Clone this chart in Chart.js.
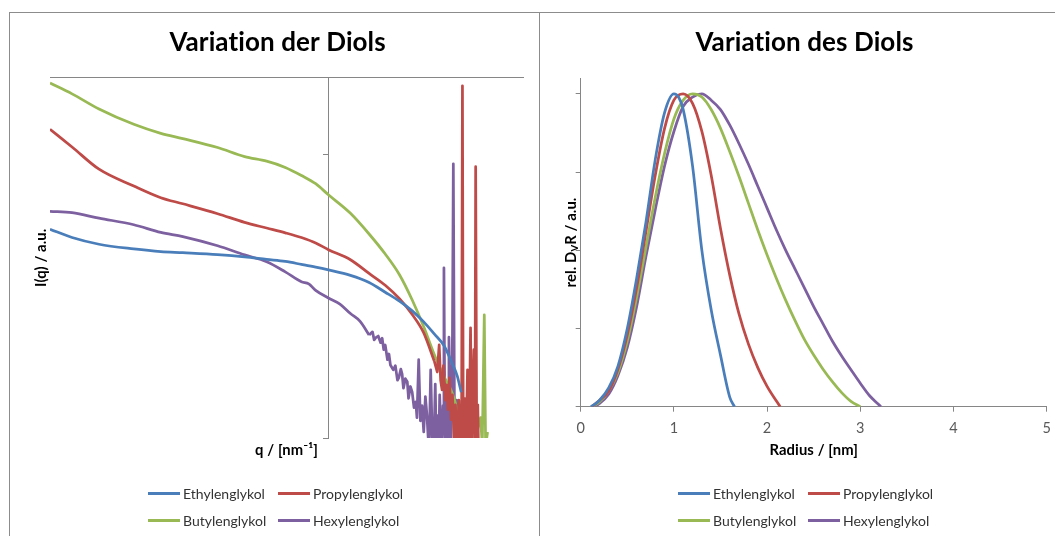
<!DOCTYPE html>
<html>
<head>
<meta charset="utf-8">
<title>Variation der Diols</title>
<script src="https://cdn.jsdelivr.net/npm/chart.js@4.4.1/dist/chart.umd.min.js"></script>
<style>
  html, body { margin: 0; padding: 0; background: #fff; overflow: hidden; }
  body { width: 1055px; height: 536px; position: relative; font-family: Lato, "Open Sans", sans-serif; }
  .rule { position: absolute; background: #8c8c8c; }
  canvas { position: absolute; top: 0; }
  #saxsChart { left: 10px; }
  #sizeChart { left: 540px; }
  .legend { position: absolute; top: 480px; display: grid; grid-template-columns: 130px 130px; font-size: 14px; color: #333; }
  .legend .item { display: flex; align-items: center; height: 27px; white-space: nowrap; }
  .legend .swatch { display: inline-block; width: 32px; height: 3px; margin-right: 3px; }
  #saxsLegend { left: 148px; }
  #sizeLegend { left: 678px; }
</style>
</head>
<body>
<div class="rule" style="left:9px; top:12px; width:1046px; height:1px;"></div>
<div class="rule" style="left:9px; top:12px; width:1px; height:524px;"></div>
<div class="rule" style="left:539px; top:12px; width:1px; height:524px;"></div>

<canvas id="saxsChart" width="529" height="536"></canvas>
<canvas id="sizeChart" width="527" height="536"></canvas>
<div class="legend" id="saxsLegend"></div>
<div class="legend" id="sizeLegend"></div>

<script>
// ===================== Data =====================

const seriesNames = ['Ethylenglykol', 'Propylenglykol', 'Butylenglykol', 'Hexylenglykol'];
const seriesColors = ['#4a7ebb', '#be4b48', '#98b954', '#7d60a0'];
const axisColor = '#868686';

// scattering curves: q in nm^-1, I(q) in a.u.
const qEthylen = [0.1, 0.12, 0.15, 0.2, 0.25, 0.3, 0.4, 0.5, 0.6, 0.7, 0.8, 0.9, 1.0, 1.2, 1.4, 1.6, 1.8, 2.0, 2.2, 2.4, 2.6, 2.8, 2.9, 3.0];
const iEthylen = [5.46, 5.10, 4.83, 4.65, 4.55, 4.51, 4.44, 4.36, 4.27, 4.20, 4.10, 4.01, 3.92, 3.75, 3.54, 3.27, 3.04, 2.81, 2.57, 2.33, 2.12, 1.81, 1.66, 1.45];

const qPropylen = [0.1, 0.12, 0.15, 0.2, 0.25, 0.3, 0.4, 0.5, 0.6, 0.7, 0.8, 0.9, 1.0, 1.2, 1.4, 1.6, 1.8, 2.0, 2.2, 2.4,
  2.46, 2.50, 2.53, 2.56, 2.59, 2.63, 2.66, 2.69, 2.72, 2.76, 2.79, 2.83, 2.86, 2.90, 2.94, 2.97,
  3.01, 3.03, 3.05, 3.08, 3.12, 3.16, 3.20, 3.24, 3.27, 3.30, 3.33, 3.36, 3.38, 3.41, 3.44, 3.46];
const iPropylen = [12.3, 10.65, 8.89, 7.75, 7.05, 6.71, 6.19, 5.77, 5.51, 5.30, 5.10, 4.88, 4.62, 4.26, 3.81, 3.46, 3.10, 2.73, 2.35, 1.87,
  1.71, 2.13, 1.60, 1.48, 1.80, 1.36, 1.54, 1.26, 1.63, 1.16, 1.42, 0.95, 1.31, 0.9, 1.36, 0.9,
  1.21, 17.5, 0.95, 1.38, 0.9, 1.74, 0.9, 2.45, 0.9, 1.45, 2.05, 0.9, 9.07, 0.9, 1.31, 0.9];

const qButylen = [0.1, 0.12, 0.15, 0.2, 0.25, 0.3, 0.4, 0.5, 0.6, 0.7, 0.8, 0.9, 1.0, 1.2, 1.4, 1.6, 1.8, 2.0, 2.2, 2.4, 2.6, 2.8, 3.0,
  3.06, 3.14, 3.22, 3.30, 3.38, 3.46, 3.52, 3.57, 3.63, 3.67, 3.73];
const iButylen = [17.9, 16.4, 14.5, 12.8, 11.9, 11.4, 10.6, 9.85, 9.49, 9.02, 8.45, 7.90, 7.22, 6.21, 5.25, 4.46, 3.77, 3.07, 2.47, 1.97, 1.65, 1.42, 1.11,
  0.98, 1.05, 1.16, 0.94, 1.0, 1.11, 1.18, 0.94, 2.72, 0.94, 1.05];

const qHexylen = [0.1, 0.12, 0.15, 0.2, 0.25, 0.3, 0.4, 0.5, 0.6, 0.7, 0.8, 0.85, 0.9, 1.0, 1.1, 1.2, 1.3, 1.4,
  1.44, 1.46, 1.48, 1.51, 1.54, 1.56, 1.58, 1.60, 1.63, 1.65, 1.67, 1.71, 1.74, 1.77, 1.79, 1.82, 1.84, 1.86, 1.89,
  1.92, 1.94, 1.97, 2.00, 2.03, 2.06, 2.08, 2.11, 2.14, 2.17, 2.20, 2.23, 2.26, 2.28, 2.30, 2.33, 2.36, 2.39,
  2.42, 2.44, 2.46, 2.49, 2.51, 2.53, 2.56, 2.58, 2.60, 2.62, 2.64, 2.67, 2.69, 2.71, 2.73, 2.75, 2.77, 2.79,
  2.81, 2.84, 2.86, 2.89, 2.92, 2.95, 2.97, 3.00];
const iHexylen = [6.31, 6.24, 5.97, 5.66, 5.32, 5.14, 4.77, 4.43, 4.19, 3.86, 3.56, 3.50, 3.32, 3.12, 2.97, 2.75, 2.58, 2.31,
  2.37, 2.22, 2.26, 2.29, 2.17, 2.25, 2.05, 2.13, 1.89, 1.98, 1.81, 1.74, 1.80, 1.60, 1.63, 1.75, 1.68, 1.50, 1.62,
  1.58, 1.38, 1.52, 1.45, 1.28, 1.34, 1.18, 1.89, 1.15, 1.30, 1.05, 1.40, 1.20, 1.02, 0.9, 1.74, 1.01, 0.9,
  1.55, 0.95, 1.20, 0.9, 1.42, 1.13, 0.9, 1.30, 3.99, 1.10, 0.9, 1.50, 1.0, 2.27, 1.20, 0.9, 1.40, 2.31,
  9.29, 0.9, 1.25, 1.36, 0.9, 1.30, 1.19, 0.9];

// q above which each curve turns to noise (drawn with straight segments)
const noiseOnset = [Infinity, 2.4, 3.0, 1.4];

const saxsYTicks = [1, 10];

// size distributions: radius in nm, relative D_V(R)
const rEthylen = [0.11, 0.2, 0.3, 0.4, 0.5, 0.6, 0.7, 0.8, 0.9, 1.0, 1.05, 1.1, 1.2, 1.3, 1.4, 1.5, 1.6, 1.65];
const dEthylen = [0, 0.02, 0.06, 0.13, 0.25, 0.41, 0.59, 0.79, 0.94, 1.0, 0.99, 0.95, 0.77, 0.50, 0.31, 0.165, 0.03, 0];

const rPropylen = [0.12, 0.2, 0.3, 0.4, 0.5, 0.6, 0.7, 0.8, 0.9, 1.0, 1.1, 1.2, 1.3, 1.4, 1.5, 1.6, 1.7, 1.8, 1.9, 2.0, 2.1, 2.14];
const dPropylen = [0, 0.02, 0.05, 0.12, 0.23, 0.38, 0.56, 0.74, 0.89, 0.98, 1.0, 0.97, 0.88, 0.74, 0.57, 0.42, 0.295, 0.20, 0.125, 0.065, 0.018, 0];

const rButylen = [0.12, 0.2, 0.3, 0.4, 0.5, 0.6, 0.7, 0.8, 0.9, 1.0, 1.1, 1.2, 1.3, 1.4, 1.5, 1.6, 1.7, 1.8, 1.9, 2.0,
  2.1, 2.2, 2.3, 2.4, 2.5, 2.6, 2.7, 2.8, 2.9, 3.0];
const dButylen = [0, 0.015, 0.05, 0.11, 0.21, 0.35, 0.51, 0.67, 0.81, 0.92, 0.98, 1.0, 0.99, 0.95, 0.89, 0.815, 0.735, 0.65, 0.565, 0.485,
  0.41, 0.34, 0.275, 0.215, 0.165, 0.12, 0.08, 0.045, 0.017, 0];

const rHexylen = [0.13, 0.2, 0.3, 0.4, 0.5, 0.6, 0.7, 0.8, 0.9, 1.0, 1.1, 1.2, 1.3, 1.4, 1.5, 1.6, 1.7, 1.8, 1.9, 2.0,
  2.1, 2.2, 2.3, 2.4, 2.5, 2.6, 2.7, 2.8, 2.9, 3.0, 3.1, 3.2, 3.22];
const dHexylen = [0, 0.01, 0.04, 0.10, 0.19, 0.32, 0.48, 0.63, 0.77, 0.88, 0.96, 0.99, 1.0, 0.98, 0.95, 0.90, 0.84, 0.775, 0.705, 0.635,
  0.565, 0.50, 0.44, 0.38, 0.32, 0.265, 0.21, 0.162, 0.118, 0.075, 0.035, 0.006, 0];

const radiusTicks = [0, 1, 2, 3, 4, 5];
const distTicks = [0, 0.25, 0.5, 0.75, 1];

// ===================== Helpers =====================

function toPoints(xs, ys) {
  return xs.map((x, i) => ({ x, y: ys[i] }));
}

// pin an axis box to a fixed thickness so the plot area lands where it should
function fixedSize(px) {
  return scale => {
    if (scale.isHorizontal()) scale.height = px;
    else scale.width = px;
  };
}

function setTicks(values) {
  return scale => { scale.ticks = values.map(v => ({ value: v })); };
}

function buildLegend(chart, elementId) {
  const box = document.getElementById(elementId);
  chart.data.datasets.filter(ds => !ds.isTail).forEach(ds => {
    const item = document.createElement('div');
    item.className = 'item';
    const swatch = document.createElement('span');
    swatch.className = 'swatch';
    swatch.style.background = ds.borderColor;
    const label = document.createElement('span');
    label.textContent = ds.label;
    item.append(swatch, label);
    box.append(item);
  });
}

// tiny letter spacing keeps the font from fusing "ti" in the titles
const noLigatures = {
  id: 'noLigatures',
  beforeDraw(chart) { chart.ctx.letterSpacing = '0.1px'; }
};

// y title with a real subscript: "rel. D" + "V" + "R / a.u."
const subscriptYTitle = {
  id: 'subscriptYTitle',
  afterDraw(chart, args, opts) {
    const { ctx, chartArea } = chart;
    const scale = chart.scales.y;
    const parts = opts.parts;
    const x = scale.left + opts.size * 0.6;
    const y = (chartArea.top + chartArea.bottom) / 2;
    ctx.save();
    ctx.translate(x, y);
    ctx.rotate(-Math.PI / 2);
    ctx.fillStyle = '#000';
    ctx.textBaseline = 'middle';
    const fonts = parts.map(p => `bold ${p.sub ? opts.size * 0.65 : opts.size}px ${Chart.defaults.font.family}`);
    const widths = parts.map((p, i) => { ctx.font = fonts[i]; return ctx.measureText(p.text).width; });
    let cx = -widths.reduce((a, b) => a + b, 0) / 2;
    parts.forEach((p, i) => {
      ctx.font = fonts[i];
      ctx.fillText(p.text, cx, p.sub ? opts.size * 0.28 : 0);
      cx += widths[i];
    });
    ctx.restore();
  }
};

Chart.defaults.font.family = 'Lato, "Open Sans", sans-serif';
Chart.defaults.color = '#000';

const titleFont = { size: 26, weight: 'bold' };
const axisTitleFont = { size: 14.8, weight: 'bold' };

// ===================== Scattering curves (log-log) =====================

const saxsSets = [[qEthylen, iEthylen], [qPropylen, iPropylen], [qButylen, iButylen], [qHexylen, iHexylen]];

// smooth part of each curve gets a monotone spline, the noisy tail stays jagged
const saxsDatasets = [];
saxsSets.forEach(([q, i], k) => {
  const pts = toPoints(q, i);
  const onset = noiseOnset[k];
  saxsDatasets.push({
    label: seriesNames[k],
    data: pts.filter(p => p.x <= onset),
    borderColor: seriesColors[k],
    backgroundColor: seriesColors[k],
    cubicInterpolationMode: 'monotone',
    clip: 0
  });
  const tail = pts.filter(p => p.x >= onset);
  if (tail.length) {
    saxsDatasets.push({
      label: seriesNames[k],
      isTail: true,
      data: tail,
      borderColor: seriesColors[k],
      backgroundColor: seriesColors[k],
      tension: 0,
      clip: 0
    });
  }
});

const saxsChart = new Chart(document.getElementById('saxsChart'), {
  type: 'line',
  data: { datasets: saxsDatasets },
  plugins: [noLigatures],
  options: {
    responsive: false,
    animation: false,
    devicePixelRatio: 1,
    layout: { padding: { left: 22.1, right: 16, top: 0, bottom: 77.1 } },
    elements: {
      point: { radius: 0 },
      line: { borderWidth: 2.75, borderJoinStyle: 'round' }
    },
    plugins: {
      legend: { display: false },
      tooltip: { enabled: false },
      title: { display: true, text: 'Variation der Diols', font: titleFont, color: '#000', padding: { top: 27.4, bottom: 19.1 } }
    },
    scales: {
      x: {
        type: 'logarithmic', position: 'bottom', min: 0.1, max: 5,
        border: { display: false }, grid: { display: false }, ticks: { display: false },
        title: { display: true, text: 'q / [nm⁻¹]', font: axisTitleFont, color: '#000', padding: { top: 0, bottom: 0 } },
        afterFit: fixedSize(20.9)
      },
      xTop: {
        type: 'logarithmic', position: 'top', min: 0.1, max: 5,
        border: { color: axisColor, width: 1 }, grid: { display: false }, ticks: { display: false },
        afterFit: fixedSize(0)
      },
      y: {
        type: 'logarithmic', position: 'left', min: 1, max: 18.7,
        border: { display: false }, grid: { display: false }, ticks: { display: false },
        title: { display: true, text: 'I(q) / a.u.', font: axisTitleFont, color: '#000', padding: { top: 0, bottom: 0 } },
        afterFit: fixedSize(17.9)
      },
      yCross: {
        type: 'logarithmic', position: { x: 1 }, min: 1, max: 18.7,
        border: { color: axisColor, width: 1 },
        grid: { drawOnChartArea: false, color: axisColor, tickLength: 5 },
        ticks: { display: false },
        afterBuildTicks: setTicks(saxsYTicks)
      }
    }
  }
});

// ===================== Size distributions =====================

const sizeSets = [[rEthylen, dEthylen], [rPropylen, dPropylen], [rButylen, dButylen], [rHexylen, dHexylen]];

const sizeChart = new Chart(document.getElementById('sizeChart'), {
  type: 'line',
  data: {
    datasets: sizeSets.map(([r, d], k) => ({
      label: seriesNames[k],
      data: toPoints(r, d),
      borderColor: seriesColors[k],
      backgroundColor: seriesColors[k],
      cubicInterpolationMode: 'monotone'
    }))
  },
  plugins: [noLigatures, subscriptYTitle],
  options: {
    responsive: false,
    animation: false,
    devicePixelRatio: 1,
    layout: { padding: { left: 22.2, right: 20.3, top: 0, bottom: 76.4 } },
    elements: {
      point: { radius: 0 },
      line: { borderWidth: 2.75 }
    },
    plugins: {
      legend: { display: false },
      tooltip: { enabled: false },
      title: { display: true, text: 'Variation des Diols', font: titleFont, color: '#000', padding: { top: 27.4, bottom: 19.7 } },
      subscriptYTitle: {
        size: 14.8,
        parts: [{ text: 'rel. D' }, { text: 'V', sub: true }, { text: 'R / a.u.' }]
      }
    },
    scales: {
      x: {
        type: 'linear', position: 'bottom', min: 0, max: 5,
        border: { color: axisColor, width: 1 },
        grid: { drawOnChartArea: false, color: axisColor, tickLength: 5 },
        ticks: { font: { size: 14.5 }, color: '#595959', padding: 7.5, maxRotation: 0 },
        afterBuildTicks: setTicks(radiusTicks),
        title: { display: true, text: 'Radius / [nm]', font: axisTitleFont, color: '#000', padding: { top: 0, bottom: 0 } },
        afterFit: fixedSize(52.9)
      },
      y: {
        type: 'linear', position: 'left', min: 0, max: 1.05,
        border: { color: axisColor, width: 1 },
        grid: { drawOnChartArea: false, color: axisColor, tickLength: 5 },
        ticks: { display: false },
        afterBuildTicks: setTicks(distTicks),
        afterFit: fixedSize(18.5)
      }
    }
  }
});

buildLegend(saxsChart, 'saxsLegend');
buildLegend(sizeChart, 'sizeLegend');
</script>
</body>
</html>
